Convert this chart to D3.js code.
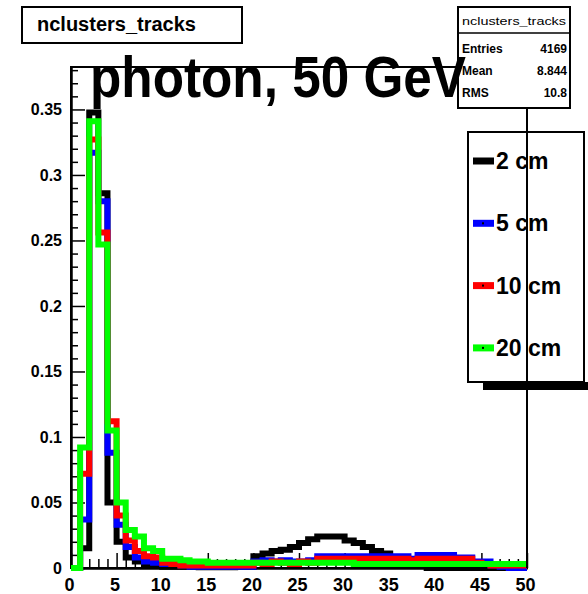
<!DOCTYPE html>
<meta charset="utf-8">
<style>
body { margin: 0; background: #fff; }
svg { font-family: "Liberation Sans", Arial, sans-serif; font-weight: bold; }
.axis .domain { stroke: #000; stroke-width: 2; }
.axis .tick line { stroke: #000; stroke-width: 1.5; }
.axis text { fill: #000; font-family: "Liberation Sans", Arial, sans-serif; font-weight: bold; }
</style>
<body>
<script src="https://d3js.org/d3.v7.min.js"></script>
<script>

// histogram contents, 50 bins of width 1 from 0 to 50
var seriesNames = ["2 cm", "5 cm", "10 cm", "20 cm"];
var seriesColors = ["#000000", "#0000ff", "#ff0000", "#00ff00"];

var h2cm = [0, 0.015, 0.3476, 0.286, 0.050, 0.020, 0.008, 0.005, 0.003, 0.002,
            0.001, 0.001, 0.001, 0.001, 0.0005, 0.0005, 0.0005, 0.0005, 0.001, 0.001,
            0.009, 0.011, 0.013, 0.014, 0.016, 0.019, 0.022, 0.024, 0.024, 0.024,
            0.021, 0.019, 0.016, 0.013, 0.011, 0.008, 0.006, 0.005, 0.004, 0,
            0, 0, 0, 0, 0, 0, 0, 0, 0, 0];

var h5cm = [0, 0.037, 0.317, 0.280, 0.088, 0.033, 0.016, 0.008, 0.005, 0.004,
            0.003, 0.003, 0.002, 0.001, 0.001, 0.001, 0.001, 0.001, 0.001, 0.001,
            0.005, 0.006, 0.005, 0.006, 0.005, 0.005, 0.006, 0.009, 0.009, 0.009,
            0.009, 0.009, 0.009, 0.009, 0.009, 0.009, 0.009, 0.007, 0.010, 0.010,
            0.010, 0.010, 0.008, 0.008, 0.005, 0.005, 0.002, 0.001, 0, 0];

var h10cm = [0, 0.072, 0.327, 0.256, 0.112, 0.040, 0.021, 0.013, 0.009, 0.008,
             0.004, 0.003, 0.002, 0.002, 0.002, 0.002, 0.002, 0.002, 0.002, 0.002,
             0.004, 0.003, 0.005, 0.004, 0.003, 0.005, 0.004, 0.007, 0.007, 0.007,
             0.007, 0.007, 0.007, 0.007, 0.007, 0.007, 0.007, 0.006, 0.007, 0.007,
             0.007, 0.007, 0.007, 0.007, 0.004, 0.003, 0.002, 0.002, 0.002, 0.002];

var h20cm = [0, 0.092, 0.341, 0.247, 0.105, 0.050, 0.029, 0.024, 0.015, 0.013,
             0.007, 0.007, 0.006, 0.005, 0.005, 0.004, 0.004, 0.004, 0.004, 0.004,
             0.004, 0.004, 0.004, 0.004, 0.004, 0.004, 0.004, 0.004, 0.004, 0.004,
             0.004, 0.003, 0.003, 0.003, 0.003, 0.003, 0.003, 0.003, 0.003, 0.003,
             0.003, 0.003, 0.003, 0.003, 0.003, 0.003, 0.003, 0.003, 0.003, 0.003];

var xMajor = [0, 5, 10, 15, 20, 25, 30, 35, 40, 45, 50];
var yMajor = [0, 0.05, 0.1, 0.15, 0.2, 0.25, 0.3, 0.35];
var yLabels = ["0", "0.05", "0.1", "0.15", "0.2", "0.25", "0.3", "0.35"];

var statLabels = ["Entries", "Mean", "RMS"];
var statValues = ["4169", "8.844", "10.8"];

var allSeries = [h2cm, h5cm, h10cm, h20cm];

var width = 588, height = 594;
var frame = {left: 71, right: 527, top: 67, bottom: 568};

var x = d3.scaleLinear().domain([0, 50]).range([frame.left, frame.right]);
var y = d3.scaleLinear().domain([0, 0.3824]).range([frame.bottom, frame.top]);

var svg = d3.select("body").append("svg")
    .attr("width", width)
    .attr("height", height);

// frame box
svg.append("rect")
    .attr("x", frame.left).attr("y", frame.top)
    .attr("width", frame.right - frame.left)
    .attr("height", frame.bottom - frame.top)
    .attr("fill", "none").attr("stroke", "#000").attr("stroke-width", 2);

// minor ticks first
var xMinor = d3.range(0, 51).filter(function(d) { return d % 5 !== 0; });
var yMinor = d3.range(1, 39).map(function(d) { return d / 100; })
    .filter(function(d, i) { return (i + 1) % 5 !== 0; });

svg.append("g")
    .attr("class", "axis")
    .attr("transform", "translate(0," + frame.bottom + ")")
    .call(d3.axisBottom(x).tickValues(xMinor).tickSize(-9).tickSizeOuter(0).tickFormat(""));

svg.append("g")
    .attr("class", "axis")
    .attr("transform", "translate(" + frame.left + ",0)")
    .call(d3.axisLeft(y).tickValues(yMinor).tickSize(-7).tickSizeOuter(0).tickFormat(""));

// major ticks + labels
svg.append("g")
    .attr("class", "axis")
    .attr("transform", "translate(0," + frame.bottom + ")")
    .call(d3.axisBottom(x).tickValues(xMajor).tickSize(-15).tickSizeOuter(0).tickPadding(10))
  .selectAll("text")
    .style("font-size", "18px")
    .attr("x", -2);

svg.append("g")
    .attr("class", "axis")
    .attr("transform", "translate(" + frame.left + ",0)")
    .call(d3.axisLeft(y).tickValues(yMajor).tickSize(-14).tickSizeOuter(0).tickPadding(9)
      .tickFormat(function(d, i) { return yLabels[i]; }))
  .selectAll("text")
    .style("font-size", "16px");

// histograms
var line = d3.line()
    .x(function(d) { return x(d[0]); })
    .y(function(d) { return y(d[1]); })
    .curve(d3.curveStepAfter);

allSeries.forEach(function(vals, k) {
  var pts = vals.map(function(v, i) { return [i, v]; });
  pts.push([vals.length, vals[vals.length - 1]]);
  svg.append("path")
      .attr("d", line(pts))
      .attr("fill", "none")
      .attr("stroke", seriesColors[k])
      .attr("stroke-width", 6)
      .attr("stroke-linejoin", "miter");
});

// title box
svg.append("rect")
    .attr("x", 22).attr("y", 7).attr("width", 220).attr("height", 36)
    .attr("fill", "#fff").attr("stroke", "#000").attr("stroke-width", 2);
svg.append("text")
    .attr("x", 37).attr("y", 31)
    .style("font-size", "20px")
    .text("nclusters_tracks");

// stats box
var stats = svg.append("g");
stats.append("rect")
    .attr("x", 458).attr("y", 7).attr("width", 112).attr("height", 101)
    .attr("fill", "#fff").attr("stroke", "#000").attr("stroke-width", 2);
stats.append("line")
    .attr("x1", 458).attr("x2", 570).attr("y1", 33).attr("y2", 33)
    .attr("stroke", "#000").attr("stroke-width", 1.5);
stats.append("text")
    .attr("x", 462).attr("y", 25)
    .attr("textLength", 104).attr("lengthAdjust", "spacingAndGlyphs")
    .style("font-size", "11px").style("font-weight", "normal")
    .text("nclusters_tracks");
stats.selectAll(".slab")
    .data(statLabels)
  .enter().append("text")
    .attr("x", 462)
    .attr("y", function(d, i) { return 53 + i * 22; })
    .style("font-size", "12px")
    .text(function(d) { return d; });
stats.selectAll(".sval")
    .data(statValues)
  .enter().append("text")
    .attr("x", 567)
    .attr("y", function(d, i) { return 53 + i * 22; })
    .attr("text-anchor", "end")
    .style("font-size", "12px")
    .text(function(d) { return d; });

// legend (no fill, frame shows through)
svg.append("rect")
    .attr("x", 483).attr("y", 382).attr("width", 105).attr("height", 8)
    .attr("fill", "#000");
svg.append("rect")
    .attr("x", 468).attr("y", 132).attr("width", 116).attr("height", 250)
    .attr("fill", "none").attr("stroke", "#000").attr("stroke-width", 2);

var leg = svg.selectAll(".leg")
    .data(seriesNames)
  .enter().append("g")
    .attr("transform", function(d, i) { return "translate(0," + (161 + i * 62.3) + ")"; });
leg.append("line")
    .attr("x1", 473).attr("x2", 494).attr("y1", 0).attr("y2", 0)
    .attr("stroke", function(d, i) { return seriesColors[i]; })
    .attr("stroke-width", 7);
leg.append("rect")
    .attr("x", 482).attr("y", -1).attr("width", 2).attr("height", 2)
    .attr("fill", "#000");
leg.append("text")
    .attr("x", 496).attr("y", 8)
    .style("font-size", "23px")
    .text(function(d) { return d; });

// frame right edge on top of legend
svg.append("line")
    .attr("x1", frame.right).attr("x2", frame.right)
    .attr("y1", 108).attr("y2", frame.bottom)
    .attr("stroke", "#000").attr("stroke-width", 2);

// big title
svg.append("text")
    .attr("x", 90).attr("y", 97)
    .attr("textLength", 376).attr("lengthAdjust", "spacingAndGlyphs")
    .style("font-size", "57px")
    .text("photon, 50 GeV");

</script>
